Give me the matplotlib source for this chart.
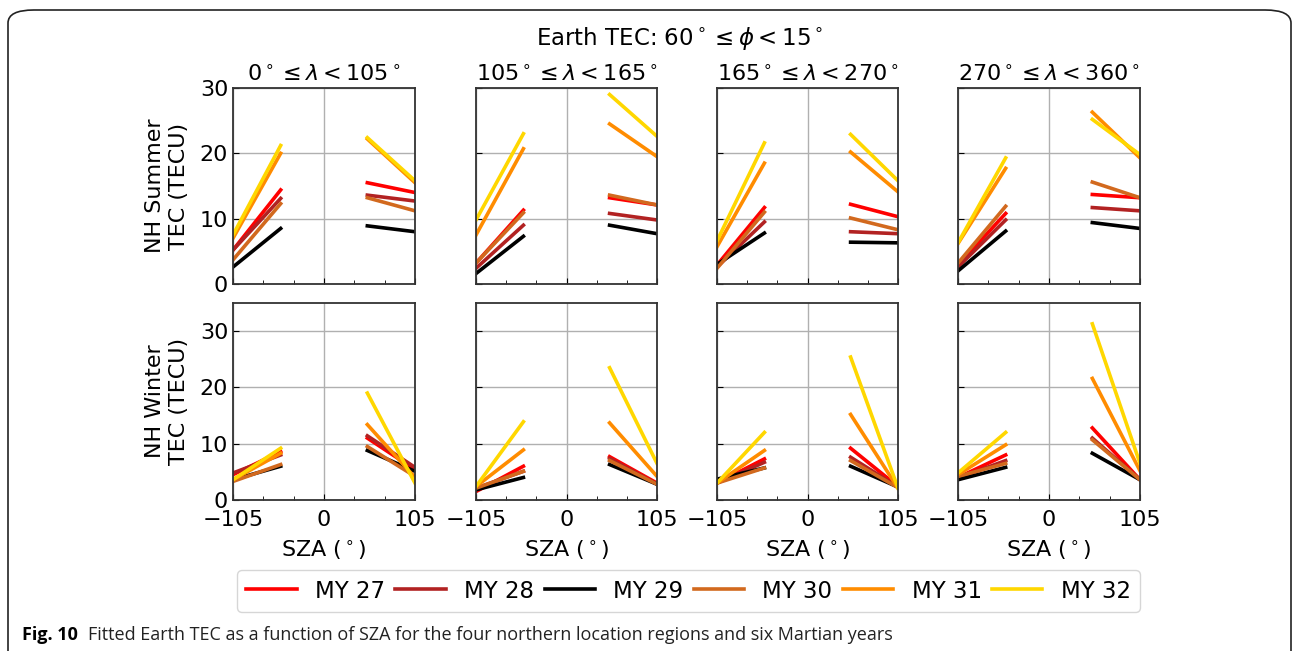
import numpy as np
import matplotlib.pyplot as plt
from matplotlib.patches import FancyBboxPatch

# SZA ranges of the two fitted branches (morning / evening)
sza_left = [-105, -50]
sza_right = [50, 105]

years = ['MY 27', 'MY 28', 'MY 29', 'MY 30', 'MY 31', 'MY 32']
year_colors = ['#ff0000', '#b22222', '#000000', '#d2691e', '#ff8c00', '#ffd700']

lon_titles = [r'$0^\circ \leq \lambda < 105^\circ$',
              r'$105^\circ \leq \lambda < 165^\circ$',
              r'$165^\circ \leq \lambda < 270^\circ$',
              r'$270^\circ \leq \lambda < 360^\circ$']
season_labels = ['NH Summer\nTEC (TECU)', 'NH Winter\nTEC (TECU)']

# fitted TEC at segment ends: [region][year] -> (left start, left end, right start, right end)
summer_tec = [
    [(5.2, 14.4, 15.5, 14.0), (5.2, 13.1, 13.6, 12.7), (2.6, 8.5, 8.9, 8.0),
     (3.7, 12.3, 13.2, 11.2), (7.0, 20.0, 22.2, 15.5), (7.5, 21.2, 22.4, 15.8)],
    [(3.2, 11.3, 13.2, 12.1), (2.4, 9.0, 10.8, 9.8), (1.6, 7.3, 9.0, 7.7),
     (3.2, 10.9, 13.6, 12.1), (7.5, 20.7, 24.5, 19.5), (9.8, 23.0, 29.0, 22.6)],
    [(2.9, 11.7, 12.2, 10.3), (2.6, 9.5, 8.0, 7.7), (3.0, 7.8, 6.4, 6.3),
     (2.4, 11.0, 10.1, 8.3), (5.7, 18.5, 20.2, 14.1), (6.6, 21.6, 22.9, 15.8)],
    [(2.9, 10.8, 13.7, 13.2), (2.6, 9.8, 11.7, 11.2), (2.0, 8.1, 9.4, 8.5),
     (3.2, 11.9, 15.6, 13.2), (6.2, 17.7, 26.3, 19.3), (6.3, 19.3, 25.2, 19.8)],
]
winter_tec = [
    [(4.5, 8.6, 11.0, 5.4), (4.8, 8.0, 11.4, 5.8), (3.6, 6.0, 8.8, 5.1),
     (3.3, 6.3, 9.5, 4.2), (3.6, 8.3, 13.4, 4.0), (3.6, 9.2, 19.0, 3.0)],
    [(1.5, 6.0, 7.7, 3.0), (2.1, 5.1, 7.4, 2.8), (1.8, 4.0, 6.3, 2.8),
     (2.1, 5.1, 7.0, 2.8), (2.4, 8.9, 13.7, 4.2), (2.4, 13.9, 23.5, 6.5)],
    [(3.0, 7.3, 9.2, 2.4), (3.0, 6.7, 7.6, 2.3), (3.7, 5.7, 6.0, 2.3),
     (3.0, 5.7, 7.0, 2.2), (3.0, 8.8, 15.2, 2.1), (3.0, 12.0, 25.4, 2.1)],
    [(4.0, 8.0, 12.8, 3.6), (3.9, 7.0, 11.0, 3.6), (3.6, 5.8, 8.3, 3.6),
     (4.2, 6.5, 10.7, 3.6), (4.5, 9.8, 21.6, 5.2), (4.8, 12.0, 31.3, 6.5)],
]

fig = plt.figure(figsize=(12.93, 6.51), dpi=100)
W, H = 1293, 651

# rounded frame around the figure
frame = FancyBboxPatch((8 / W, -0.2), 1283 / W, 1.2 - 10 / H,
                       boxstyle='round,pad=0,rounding_size=0.02',
                       transform=fig.transFigure, fill=False,
                       edgecolor='#222222', linewidth=1.2, clip_on=False)
fig.patches.append(frame)

col_x = [(233, 415), (476, 657), (717, 898), (958, 1140)]
row_y = [(88, 284), (303, 500)]

handles = []
for r, (data, ymax) in enumerate([(summer_tec, 30), (winter_tec, 35)]):
    for c in range(4):
        x0, x1 = col_x[c]
        y0, y1 = row_y[r]
        ax = fig.add_axes([x0 / W, 1 - y1 / H, (x1 - x0) / W, (y1 - y0) / H])
        for k, vals in enumerate(data[c]):
            ln, = ax.plot(sza_left, vals[:2], color=year_colors[k], lw=2.6,
                          label=years[k])
            ax.plot(sza_right, vals[2:], color=year_colors[k], lw=2.6)
            if r == 0 and c == 0:
                handles.append(ln)
        ax.set_xlim(-105, 105)
        ax.set_ylim(0, ymax)
        ax.set_xticks([-105, 0, 105])
        ax.set_xticks([-70, -35, 35, 70], minor=True)
        ax.set_yticks([0, 10, 20, 30])
        ax.grid(True, color='#b0b0b0', lw=1)
        ax.set_axisbelow(True)
        ax.tick_params(direction='in', labelsize=16, length=4)
        ax.tick_params(axis='x', pad=7)
        ax.tick_params(which='minor', direction='in', length=3)
        for s in ax.spines.values():
            s.set_color('#333333')
            s.set_linewidth(1.3)
        if c != 0:
            ax.set_yticklabels([])
        else:
            ax.set_ylabel(season_labels[r], fontsize=16, labelpad=8)
        if r == 0:
            ax.set_xticklabels([])
            ax.set_title(lon_titles[c], fontsize=16, pad=5)
        else:
            ax.set_xlabel(r'SZA ($^\circ$)', fontsize=16, labelpad=6)

fig.text(680 / W, 1 - 38 / H,
         r'Earth TEC: $60^\circ \leq \phi < 15^\circ$',
         ha='center', va='center', fontsize=16.5)

leg = fig.legend(handles=handles, loc='center', ncol=6, fontsize=16.5,
                 bbox_to_anchor=(0.5 * (237 + 1140) / W, 1 - 591 / H),
                 handlelength=2.2, columnspacing=0.45, handletextpad=0.8,
                 frameon=True, borderpad=0.4)
leg.get_frame().set_edgecolor('#cccccc')

fig.text(22 / W, 1 - 635 / H, 'Fig. 10', fontsize=13, fontweight='bold',
         family='Open Sans', va='center', ha='left')
fig.text(88 / W, 1 - 635 / H,
         'Fitted Earth TEC as a function of SZA for the four northern location '
         'regions and six Martian years',
         fontsize=13, family='Open Sans', va='center', ha='left',
         color='#222222')

fig.savefig('out.png', dpi=100)
